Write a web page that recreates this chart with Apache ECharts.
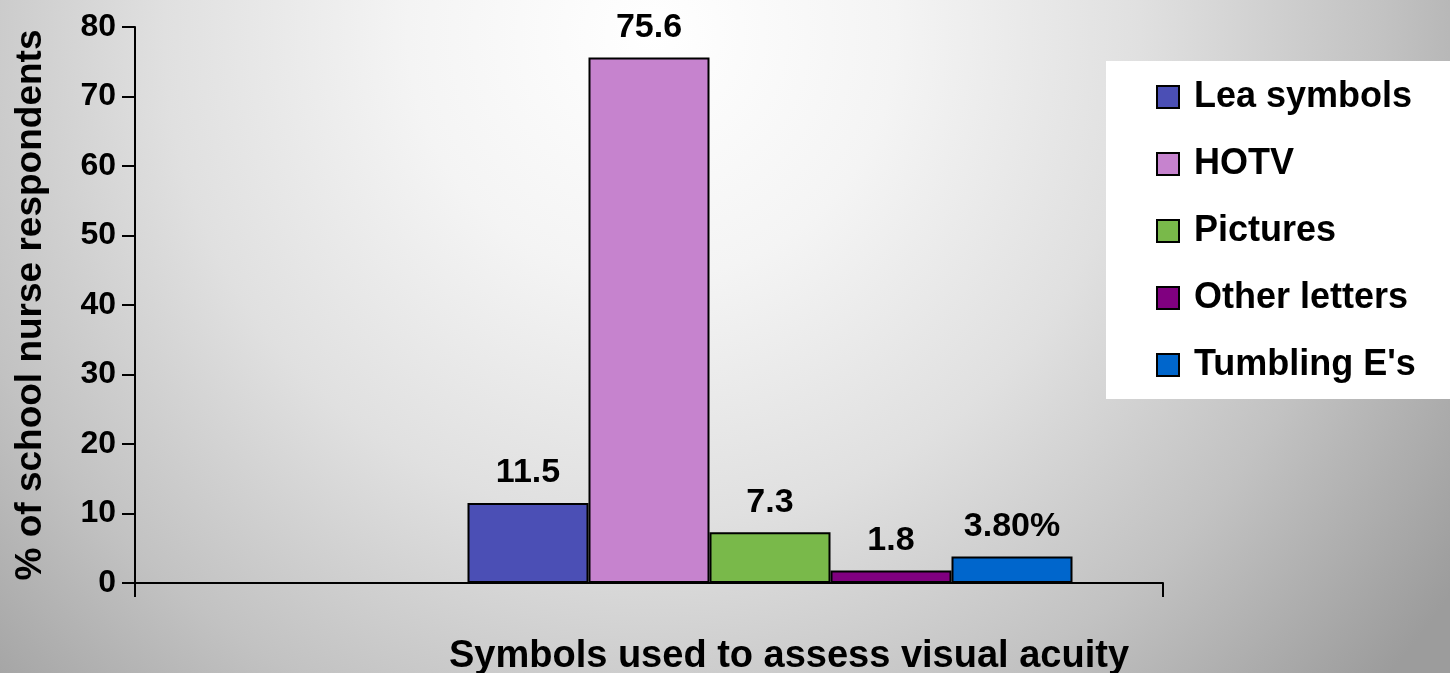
<!DOCTYPE html>
<html>
<head>
<meta charset="utf-8">
<style>
html, body { margin: 0; padding: 0; }
#main { width: 1450px; height: 673px; }
</style>
</head>
<body>
<div id="main"></div>
<script src="https://cdn.jsdelivr.net/npm/echarts@6/dist/echarts.min.js"></script>
<script>
var symbols = ['Lea symbols', 'HOTV', 'Pictures', 'Other letters', "Tumbling E's"];
var shares = [11.5, 75.6, 7.3, 1.8, 3.8];
var shareLabels = ['11.5', '75.6', '7.3', '1.8', '3.80%'];
var colors = ['#4b4fb5', '#c683ce', '#79b94a', '#800080', '#0066cc'];
var category = [''];

var font = "'Liberation Sans', Arial, sans-serif";
var chart = echarts.init(document.getElementById('main'));

// two empty slots on the left push the cluster right, like the original
var series = [0, 1].map(function () {
    return {
        type: 'bar',
        name: '',
        data: ['-'],
        barWidth: 121,
        barGap: '0%',
        silent: true,
        itemStyle: { color: 'transparent' }
    };
});

symbols.forEach(function (name, i) {
    series.push({
        type: 'bar',
        name: name,
        data: [shares[i]],
        barWidth: 121,
        barGap: '0%',
        itemStyle: { color: colors[i], borderColor: '#000', borderWidth: 2 },
        label: {
            show: true,
            position: 'top',
            distance: 13,
            formatter: function () { return shareLabels[i]; },
            color: '#000',
            fontFamily: font,
            fontWeight: 'bold',
            fontSize: 34
        }
    });
});

var option = {
    animation: false,
    backgroundColor: {
        type: 'radial',
        x: 0.45, y: 0.05, r: 1.45,
        colorStops: [
            { offset: 0, color: '#ffffff' },
            { offset: 0.25, color: '#f4f4f4' },
            { offset: 0.5, color: '#e0e0e0' },
            { offset: 0.75, color: '#c2c2c2' },
            { offset: 1, color: '#9c9c9c' }
        ]
    },
    grid: { left: 135, right: 287, top: 27, bottom: 90, outerBoundsMode: 'none', containLabel: false },
    legend: {
        data: symbols,
        orient: 'vertical',
        left: 1106,
        top: 61,
        backgroundColor: '#ffffff',
        padding: [16, 60, 14, 50],
        itemWidth: 22,
        itemHeight: 22,
        itemGap: 27,
        icon: 'rect',
        textStyle: {
            color: '#000',
            fontFamily: font,
            fontWeight: 'bold',
            fontSize: 36,
            lineHeight: 40,
            padding: [0, 0, 0, 10]
        }
    },
    xAxis: {
        type: 'category',
        data: category,
        name: 'Symbols used to assess visual acuity',
        nameLocation: 'middle',
        nameGap: 55,
        nameTextStyle: {
            color: '#000',
            fontFamily: font,
            fontWeight: 'bold',
            fontSize: 38,
            padding: [0, 0, 0, 280]
        },
        axisLine: { lineStyle: { color: '#000', width: 2 } },
        axisTick: { show: true, interval: 0, length: 14, lineStyle: { color: '#000', width: 2 } },
        axisLabel: { show: false }
    },
    yAxis: {
        type: 'value',
        min: 0,
        max: 80,
        interval: 10,
        name: '% of school nurse respondents',
        nameLocation: 'middle',
        nameGap: 86,
        nameTextStyle: {
            color: '#000',
            fontFamily: font,
            fontWeight: 'bold',
            fontSize: 37
        },
        axisLine: { show: true, lineStyle: { color: '#000', width: 2 } },
        axisTick: { show: true, length: 13, lineStyle: { color: '#000', width: 2 } },
        axisLabel: {
            margin: 19,
            color: '#000',
            fontFamily: font,
            fontWeight: 'bold',
            fontSize: 32
        },
        splitLine: { show: false }
    },
    series: series
};

chart.setOption(option);
</script>
</body>
</html>
